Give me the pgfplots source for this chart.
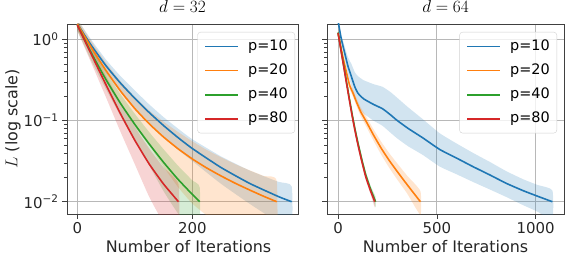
\documentclass[border=0pt]{standalone}
\usepackage{fontspec}
\setmainfont{DejaVu Sans}
\usepackage{pgfplots}
\pgfplotsset{compat=1.18}
\definecolor{c1}{HTML}{1F77B4}
\definecolor{c2}{HTML}{FF7F0E}
\definecolor{c3}{HTML}{2CA02C}
\definecolor{c4}{HTML}{D62728}
\tikzset{
  band/.style={fill=#1, fill opacity=0.2, draw=none},
  ln/.style={color=#1, line width=1.6bp},
}
\pgfplotsset{
  scale only axis, height=190bp,
  tick align=outside, tick pos=left,
  major tick length=5bp, minor tick length=3bp,
  every tick/.style={black!75, line width=0.6bp},
  grid=major, major grid style={black!28, line width=0.7bp},
  axis line style={black!75, line width=0.8bp},
  ticklabel style={font=\fontsize{15}{17}\selectfont, text=black!85},
  label style={font=\fontsize{16}{18}\selectfont, text=black!85},
  title style={font=\fontsize{16.5}{18}\selectfont, yshift=2bp},
  legend cell align=left,
  legend style={at={(1,1)}, anchor=north east, draw=black!18, rounded corners=3bp,
    fill=white, fill opacity=0.8, text opacity=1, draw opacity=1,
    font=\fontsize{14.5}{17}\selectfont,
    nodes={inner sep=0bp, text height=10.5bp, text depth=3bp},
    row sep=10.7bp, column sep=9bp, inner xsep=7bp, inner ysep=7.4bp},
  legend image code/.code={\draw[#1] (0bp,0bp) -- (33bp,0bp);},
}
\begin{document}
\begin{tikzpicture}
\useasboundingbox (0,0) rectangle (581bp,256bp);
% ---------------- d = 32 ----------------
\begin{axis}[at={(67bp,42bp)}, anchor=south west, width=231bp,
  ymode=log, ymin=0.00706, ymax=1.55, ytick={0.01,0.1,1},
  xmin=-18, xmax=384, xtick={0,200}, xticklabels={0,200},
  yticklabels={10\textsuperscript{−2},10\textsuperscript{−1},10\textsuperscript{0}},
  title={$d=32$}, xlabel={Number of Iterations}, ylabel={$L$ (log scale)},
  xlabel style={xshift=6bp}, ylabel shift=-4bp,
  legend style={xshift=-3bp, yshift=-8bp}]
\addplot[band=c1, forget plot, smooth, tension=0.3] coordinates {(0,1.781)(25,0.973)(50,0.562)(75,0.354)(100,0.235)(125,0.1584)(150,0.1104)(175,0.0799)(200,0.0589)(250,0.0362)(300,0.0242)(350,0.01759)(373,0.0155)
 (373,0.0045)(350,0.00555)(300,0.00941)(250,0.01663)(200,0.0317)(175,0.0439)(150,0.0634)(125,0.0930)(100,0.141)(75,0.226)(50,0.382)(25,0.691)(0,1.317)} -- cycle;
\addplot[band=c2, forget plot, smooth, tension=0.3] coordinates {(0,1.781)(25,0.932)(50,0.515)(75,0.306)(100,0.1968)(125,0.1333)(150,0.0972)(175,0.0726)(200,0.0556)(225,0.0436)(250,0.0354)(275,0.0290)(300,0.0244)(325,0.0207)(347,0.018)
 (347,0.002)(325,0.0025)(300,0.0032)(275,0.0040)(250,0.0052)(225,0.0068)(200,0.0095)(175,0.0152)(150,0.027)(125,0.0493)(100,0.0844)(75,0.158)(50,0.309)(25,0.622)(0,1.317)} -- cycle;
\addplot[band=c3, forget plot, smooth, tension=0.3] coordinates {(0,1.725)(25,0.802)(50,0.394)(75,0.2124)(100,0.1212)(125,0.0722)(150,0.0444)(175,0.0279)(200,0.01837)(213,0.015)
 (213,0.004)(200,0.0047)(175,0.0072)(150,0.0135)(125,0.028)(100,0.056)(75,0.1144)(50,0.242)(25,0.534)(0,1.275)} -- cycle;
\addplot[band=c4, forget plot, smooth, tension=0.3] coordinates {(0,1.725)(25,0.781)(50,0.3575)(75,0.168)(100,0.0835)(125,0.0453)(150,0.02646)(176,0.0165)
 (176,0.0035)(150,0.0055)(125,0.0115)(100,0.029)(75,0.073)(50,0.1925)(25,0.499)(0,1.275)} -- cycle;
\addplot[ln=c1, smooth, tension=0.3] coordinates {(0,1.549)(25,0.832)(50,0.472)(75,0.290)(100,0.188)(125,0.1257)(150,0.0869)(175,0.0619)(200,0.0453)(250,0.0264)(300,0.0168)(350,0.01157)(373,0.01)};
\addlegendentry{p=10}
\addplot[ln=c2, smooth, tension=0.3] coordinates {(0,1.549)(25,0.777)(50,0.412)(75,0.232)(100,0.1406)(125,0.0913)(150,0.0627)(175,0.0451)(200,0.0337)(225,0.0261)(250,0.0208)(275,0.01687)(300,0.01393)(325,0.01161)(347,0.01)};
\addlegendentry{p=20}
\addplot[ln=c3, smooth, tension=0.3] coordinates {(0,1.5)(25,0.668)(50,0.318)(75,0.1634)(100,0.0898)(125,0.0516)(150,0.0306)(175,0.01896)(200,0.01233)(213,0.01)};
\addlegendentry{p=40}
\addplot[ln=c4, smooth, tension=0.3] coordinates {(0,1.5)(25,0.64)(50,0.275)(75,0.1217)(100,0.0572)(125,0.0292)(150,0.01654)(176,0.01)};
\addlegendentry{p=80}
\end{axis}
% ---------------- d = 64 ----------------
\begin{axis}[at={(327bp,42bp)}, anchor=south west, width=237bp,
  ymode=log, ymin=0.00706, ymax=1.55, ytick={0.01,0.1,1},
  xmin=-56, xmax=1144, xtick={0,500,1000}, xticklabels={0,500,1000},
  yticklabels={},
  title={$d=64$}, xlabel={Number of Iterations},
  legend style={xshift=-7bp, yshift=-8bp}]
\addplot[band=c1, forget plot, smooth, tension=0.3] coordinates {(0,1.822)(15,1.178)(34,0.811)(50,0.605)(68,0.495)(85,0.394)(101,0.352)(130,0.314)(180,0.281)(225,0.261)(265,0.225)(300,0.1905)(355,0.1456)(430,0.1036)(515,0.0697)(600,0.0522)(684,0.0399)(770,0.0308)(853,0.0237)(940,0.0188)(1010,0.0161)(1085,0.0138)
 (1085,0.0060)(1010,0.00755)(940,0.0090)(853,0.0114)(770,0.0141)(684,0.0175)(600,0.0218)(515,0.0271)(430,0.0376)(355,0.0482)(300,0.0602)(265,0.0711)(225,0.0863)(180,0.0997)(130,0.122)(101,0.150)(85,0.188)(68,0.266)(50,0.373)(34,0.562)(15,0.936)(0,1.586)} -- cycle;
\addplot[band=c2, forget plot, smooth, tension=0.3] coordinates {(0,1.286)(25,0.643)(45,0.401)(59,0.296)(75,0.244)(93,0.191)(115,0.1453)(140,0.1148)(180,0.0776)(220,0.0541)(260,0.0394)(300,0.0296)(350,0.0209)(417,0.0135)
 (417,0.0069)(350,0.0126)(300,0.0187)(260,0.0260)(220,0.0374)(180,0.0562)(140,0.0871)(115,0.1128)(93,0.1515)(75,0.198)(59,0.246)(45,0.341)(25,0.560)(0,1.119)} -- cycle;
\addplot[band=c3, forget plot, smooth, tension=0.3] coordinates {(0,1.337)(20,0.690)(40,0.362)(58,0.199)(72,0.128)(85,0.0877)(100,0.0592)(120,0.0365)(140,0.0236)(165,0.0156)(190,0.0115)
 (190,0.0085)(165,0.0130)(140,0.0196)(120,0.0304)(100,0.0493)(85,0.073)(72,0.107)(58,0.166)(40,0.301)(20,0.575)(0,1.113)} -- cycle;
\addplot[band=c4, forget plot, smooth, tension=0.3] coordinates {(0,1.315)(20,0.676)(40,0.346)(58,0.192)(72,0.123)(85,0.0841)(100,0.0562)(120,0.0346)(140,0.0224)(165,0.0148)(186,0.0115)
 (186,0.0085)(165,0.0123)(140,0.0186)(120,0.0288)(100,0.0468)(85,0.070)(72,0.102)(58,0.160)(40,0.288)(20,0.563)(0,1.095)} -- cycle;
\addplot[ln=c1, smooth, tension=0.3] coordinates {(0,1.7)(15,1.05)(34,0.675)(50,0.47)(68,0.345)(85,0.26)(101,0.217)(130,0.185)(180,0.158)(225,0.14)(265,0.118)(300,0.1)(355,0.08)(430,0.061)(515,0.044)(600,0.0345)(684,0.027)(770,0.0213)(853,0.0168)(940,0.0136)(1010,0.0117)(1085,0.01)};
\addlegendentry{p=10}
\addplot[ln=c2, smooth, tension=0.3] coordinates {(0,1.2)(25,0.6)(45,0.37)(59,0.27)(75,0.22)(93,0.17)(115,0.128)(140,0.1)(180,0.066)(220,0.045)(260,0.032)(300,0.0235)(350,0.0162)(417,0.01)};
\addlegendentry{p=20}
\addplot[ln=c3, smooth, tension=0.3] coordinates {(0,1.22)(20,0.63)(40,0.33)(58,0.182)(72,0.117)(85,0.08)(100,0.054)(120,0.0333)(140,0.0215)(165,0.0142)(190,0.01)};
\addlegendentry{p=40}
\addplot[ln=c4, smooth, tension=0.3] coordinates {(0,1.2)(20,0.617)(40,0.316)(58,0.175)(72,0.112)(85,0.0767)(100,0.0513)(120,0.0316)(140,0.0204)(165,0.0135)(186,0.01)};
\addlegendentry{p=80}
\end{axis}
\end{tikzpicture}
\end{document}
